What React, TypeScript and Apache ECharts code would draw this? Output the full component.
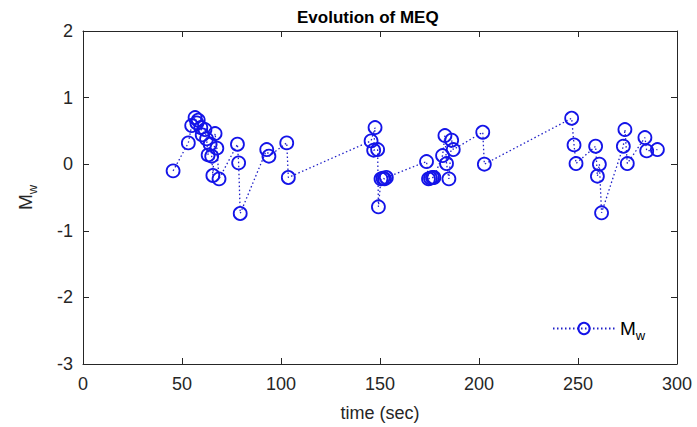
import React, { useEffect, useRef } from "react";
import * as echarts from "echarts";

const times: number[] = [
  45.5, 53.2, 54.9, 56.6, 57.5, 58.2, 59.5, 60.2, 61.6, 62.4, 63.2, 64.2, 65.0, 65.6, 66.7, 67.6, 68.7,
  78.0, 78.6, 79.4, 92.8, 93.9, 102.9, 103.7,
  145.5, 147.5, 146.8, 148.8, 149.2, 150.5, 151.5, 152.3, 153.2,
  173.5, 174.5, 175.5, 176.5, 177.2, 181.6, 182.8, 183.6, 184.8, 186.2, 187.0, 201.9, 202.7,
  246.8, 248.0, 249.0, 258.9, 259.8, 260.8, 261.9, 272.9, 273.7, 274.9, 283.8, 284.7, 290.1,
];
const magnitudes: number[] = [
  -0.1, 0.32, 0.58, 0.7, 0.62, 0.66, 0.55, 0.44, 0.52, 0.38, 0.14, 0.3, 0.12, -0.17, 0.46, 0.24, -0.22,
  0.3, 0.02, -0.74, 0.22, 0.12, 0.32, -0.2,
  0.35, 0.55, 0.21, 0.22, -0.64, -0.22, -0.21, -0.22, -0.2,
  0.04, -0.22, -0.21, -0.2, -0.2, 0.13, 0.43, 0.01, -0.22, 0.36, 0.22, 0.48, 0.0,
  0.69, 0.29, 0.01, 0.27, -0.18, 0.0, -0.73, 0.27, 0.52, 0.01, 0.4, 0.2, 0.22,
];
const xTicks = { min: 0, max: 300, interval: 50 };
const yTicks = { min: -3, max: 2, interval: 1 };

const FONT = "Liberation Sans, Arial, sans-serif";
const AX = "#262626";
const BLUE = "#1414e8";

export default function App() {
  const ref = useRef<HTMLDivElement>(null);
  useEffect(() => {
    const chart = echarts.init(ref.current!, null, { renderer: "svg" });
    const data = times.map((t, i) => [t, magnitudes[i]]);
    const axisCommon = {
      axisLine: { show: true, onZero: false, lineStyle: { color: AX, width: 1 } },
      axisTick: { show: true, inside: true, length: 6, lineStyle: { color: AX } },
      splitLine: { show: false },
    };
    const subRich = (c: string) => ({
      a: { fontSize: 19, fontFamily: FONT, color: c },
      b: { fontSize: 13, fontFamily: FONT, color: c, verticalAlign: "bottom", padding: [14, 0, 0, 0] },
    });
    chart.setOption({
      animation: false,
      backgroundColor: "#ffffff",
      title: {
        text: "Evolution of MEQ",
        left: 292,
        top: 4,
        textStyle: { fontFamily: FONT, fontSize: 17, fontWeight: "bold", color: "#000" },
      },
      grid: { left: 83, right: 20, top: 31, bottom: 62, containLabel: false },
      legend: {
        left: 547,
        top: 314,
        itemWidth: 62,
        itemHeight: 14,
        itemGap: 4,
        data: ["Mw"],
        formatter: () => "{a|M}{b|w}",
        textStyle: { fontFamily: FONT, color: "#000", rich: subRich("#000") },
      },
      xAxis: [
        {
          type: "value",
          ...xTicks,
          position: "bottom",
          name: "time (sec)",
          nameLocation: "middle",
          nameGap: 40,
          nameTextStyle: { fontFamily: FONT, fontSize: 18, color: AX },
          axisLabel: { fontFamily: FONT, fontSize: 18, color: AX, margin: 11 },
          ...axisCommon,
        },
        {
          type: "value",
          ...xTicks,
          position: "top",
          axisLabel: { show: false },
          ...axisCommon,
        },
      ],
      yAxis: [
        {
          type: "value",
          ...yTicks,
          position: "left",
          name: "{a|M}{b|w}",
          nameLocation: "middle",
          nameGap: 44,
          nameRotate: 90,
          nameTextStyle: { fontFamily: FONT, color: AX, rich: subRich(AX) },
          axisLabel: { fontFamily: FONT, fontSize: 18, color: AX, margin: 10 },
          ...axisCommon,
        },
        {
          type: "value",
          ...yTicks,
          position: "right",
          axisLabel: { show: false },
          ...axisCommon,
        },
      ],
      series: [
        {
          name: "Mw",
          type: "line",
          data,
          symbol: "circle",
          symbolSize: 13,
          showAllSymbol: true,
          color: BLUE,
          lineStyle: { color: "#2020c8", width: 1.3, type: [1.5, 2.5] },
          itemStyle: { color: "rgba(255,255,255,0)", borderColor: BLUE, borderWidth: 1.8 },
          z: 3,
        },
      ],
    });
    return () => chart.dispose();
  }, []);
  return (
    <div
      ref={ref}
      style={{ position: "fixed", left: 0, top: 0, width: 697, height: 427, background: "#fff" }}
    />
  );
}
